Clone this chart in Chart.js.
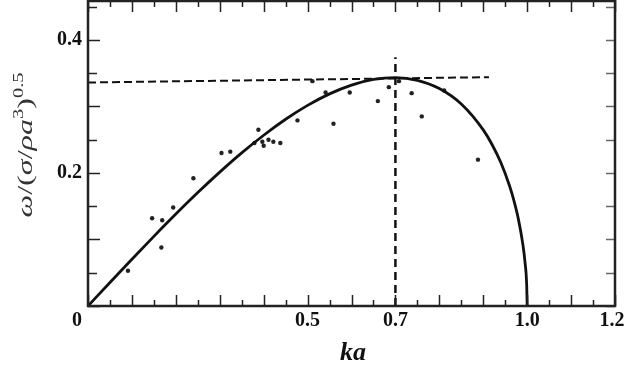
<!DOCTYPE html>
<html>
<head>
<meta charset="utf-8">
<script src="https://cdn.jsdelivr.net/npm/chart.js@4.4.0/dist/chart.umd.min.js"></script>
<style>
  html, body { margin: 0; padding: 0; background: #fff; }
</style>
</head>
<body>
<canvas id="chart" width="625" height="370"></canvas>
<script>
// theory curve
const curveKa = [0, 0.05, 0.1, 0.15, 0.2, 0.25, 0.3, 0.35, 0.4, 0.45, 0.5, 0.55, 0.6, 0.65, 0.7,
  0.75, 0.8, 0.85, 0.9, 0.92, 0.94, 0.96, 0.97, 0.98, 0.99, 0.995, 0.999, 1.0];
const curveOmega = [0, 0.0353, 0.0703, 0.1047, 0.1382, 0.1705, 0.2012, 0.2301, 0.2567, 0.2807, 0.3016,
  0.3189, 0.3321, 0.3406, 0.3433, 0.3393, 0.3269, 0.3036, 0.2647, 0.2428, 0.2156, 0.1803, 0.1580,
  0.1306, 0.0934, 0.0664, 0.0298, 0];

// measured points
const dotKa = [0.091, 0.146, 0.169, 0.167, 0.194, 0.240, 0.304, 0.324, 0.388, 0.379, 0.397, 0.400,
  0.411, 0.422, 0.438, 0.477, 0.511, 0.541, 0.596, 0.559, 0.660, 0.685, 0.708, 0.737, 0.760, 0.811, 0.888];
const dotOmega = [0.053, 0.132, 0.129, 0.088, 0.148, 0.192, 0.230, 0.232, 0.265, 0.245, 0.247, 0.241,
  0.250, 0.247, 0.245, 0.279, 0.338, 0.321, 0.321, 0.274, 0.308, 0.329, 0.338, 0.320, 0.285, 0.324, 0.220];

// dashed guide lines
const hLineKa = [0, 0.913];
const hLineOmega = [0.336, 0.344];
const vLineKa = [0.7, 0.7];
const vLineOmega = [0, 0.374];

const xTickLabels = ['0', '0.5', '0.7', '1.0', '1.2'];
const yTickLabels = ['0.2', '0.4'];

function toPoints(xs, ys) {
  return xs.map((x, i) => ({ x: x, y: ys[i] }));
}

// frame, inward ticks and labels
const framePlugin = {
  id: 'frame',
  afterDraw(chart) {
    const ctx = chart.ctx;
    const xs = chart.scales.x;
    const ys = chart.scales.y;
    const a = chart.chartArea;
    ctx.save();
    ctx.strokeStyle = '#222';

    // ticks
    ctx.lineWidth = 1.5;
    for (let i = 0; i <= 24; i++) {
      let px = Math.round(xs.getPixelForValue(i * 0.05)) + 0.5;
      let len = i % 2 === 0 ? 11 : 6;
      ctx.beginPath();
      ctx.moveTo(px, a.bottom); ctx.lineTo(px, a.bottom - len);
      ctx.moveTo(px, a.top); ctx.lineTo(px, a.top + len + 1);
      ctx.stroke();
    }
    for (let i = 0; i <= 9; i++) {
      let py = Math.round(ys.getPixelForValue(i * 0.05)) + 0.5;
      let len = i % 2 === 0 ? 12 : 9;
      ctx.beginPath();
      ctx.moveTo(a.left, py); ctx.lineTo(a.left + len, py);
      ctx.stroke();
    }
    ctx.strokeStyle = '#666';
    for (let i = 0; i <= 9; i++) {
      let py = Math.round(ys.getPixelForValue(i * 0.05)) + 0.5;
      ctx.beginPath();
      ctx.moveTo(a.right, py); ctx.lineTo(a.right - 9, py);
      ctx.stroke();
    }

    // box
    ctx.strokeStyle = '#222';
    ctx.lineWidth = 2.5;
    ctx.strokeRect(a.left, a.top + 1, a.right - a.left, a.bottom - a.top - 1);

    // tick labels
    ctx.fillStyle = '#111';
    ctx.font = 'bold 20px "Liberation Serif", "Times New Roman", serif';
    ctx.textBaseline = 'middle';
    ctx.textAlign = 'center';
    xTickLabels.forEach(t => {
      let v = parseFloat(t);
      let px = xs.getPixelForValue(v);
      if (v === 0) px -= 11;
      if (v === 1.2) px -= 3;
      ctx.fillText(t, px, 321);
    });
    ctx.textAlign = 'right';
    yTickLabels.forEach(t => {
      ctx.fillText(t, a.left - 6, ys.getPixelForValue(parseFloat(t)));
    });

    // x title
    ctx.textAlign = 'center';
    ctx.font = 'bold italic 26px "Liberation Serif", "Times New Roman", serif';
    ctx.fillText('ka', 353, 353);

    // y title, drawn in pieces for the superscripts
    const big = 22, small = 14;
    const parts = [
      { t: 'ω', f: 'italic ' + big + 'px "Liberation Serif", serif', dy: 0 },
      { t: '/(', f: big + 'px "Liberation Serif", serif', dy: 0 },
      { t: 'σ', f: 'italic ' + big + 'px "Liberation Serif", serif', dy: 0 },
      { t: '/', f: big + 'px "Liberation Serif", serif', dy: 0 },
      { t: 'ρa', f: 'italic ' + big + 'px "Liberation Serif", serif', dy: 0 },
      { t: '3', f: small + 'px "Liberation Serif", serif', dy: -9 },
      { t: ')', f: big + 'px "Liberation Serif", serif', dy: 0 },
      { t: '0.5', f: small + 'px "Liberation Serif", serif', dy: -9 }
    ];
    let total = 0;
    parts.forEach(p => { ctx.font = p.f; p.w = ctx.measureText(p.t).width; total += p.w; });
    ctx.translate(25, 145);
    ctx.rotate(-Math.PI / 2);
    ctx.scale(145 / total, 1);
    ctx.fillStyle = '#333';
    ctx.textAlign = 'left';
    ctx.textBaseline = 'alphabetic';
    let cx = -total / 2;
    parts.forEach(p => {
      ctx.font = p.f;
      ctx.fillText(p.t, cx, 7 + p.dy);
      cx += p.w;
    });
    ctx.restore();
  }
};

new Chart(document.getElementById('chart'), {
  type: 'scatter',
  data: {
    datasets: [
      {
        type: 'line',
        data: toPoints(curveKa, curveOmega),
        borderColor: '#111',
        borderWidth: 2.8,
        pointRadius: 0,
        cubicInterpolationMode: 'monotone',
        fill: false
      },
      {
        type: 'line',
        data: toPoints(hLineKa, hLineOmega),
        borderColor: '#111',
        borderWidth: 2,
        borderDash: [8, 4],
        pointRadius: 0,
        fill: false
      },
      {
        type: 'line',
        data: toPoints(vLineKa, vLineOmega),
        borderColor: '#111',
        borderWidth: 2.5,
        borderDash: [8, 5],
        pointRadius: 0,
        fill: false
      },
      {
        data: toPoints(dotKa, dotOmega),
        backgroundColor: '#222',
        borderWidth: 0,
        pointRadius: 2.2
      }
    ]
  },
  options: {
    responsive: false,
    animation: false,
    devicePixelRatio: 1,
    layout: { autoPadding: false, padding: { left: 88, right: 10, top: 0, bottom: 64 } },
    plugins: {
      legend: { display: false },
      tooltip: { enabled: false }
    },
    scales: {
      x: { type: 'linear', min: 0, max: 1.2, display: false },
      y: { type: 'linear', min: 0, max: 0.46, display: false }
    }
  },
  plugins: [framePlugin]
});
</script>
</body>
</html>
